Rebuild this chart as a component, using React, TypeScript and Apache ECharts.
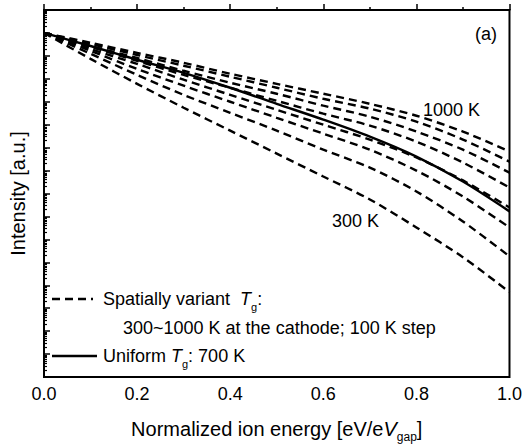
import { useEffect, useRef } from 'react';
import * as echarts from 'echarts';

// Normalized ion energy (eV / eV_gap)
const energy = [0, 0.1, 0.2, 0.3, 0.4, 0.5, 0.6, 0.7, 0.8, 0.9, 1.0];

// log10 of intensity (a.u.) for the spatially variant Tg cases (cathode temperature)
const tempLabels = ['300 K', '400 K', '500 K', '600 K', '700 K', '800 K', '900 K', '1000 K'];
const log10I_300K = [-1.0, -2.13, -3.22, -4.26, -5.26, -6.26, -7.26, -8.26, -9.48, -10.78, -12.3];
const log10I_400K = [-1.0, -1.91, -2.83, -3.7, -4.48, -5.26, -6.09, -6.87, -7.91, -9.22, -10.74];
const log10I_500K = [-1.0, -1.78, -2.57, -3.3, -4.0, -4.7, -5.39, -6.09, -7.0, -8.13, -9.48];
const log10I_600K = [-1.0, -1.7, -2.35, -3.04, -3.7, -4.35, -5.0, -5.65, -6.43, -7.43, -8.61];
const log10I_700K = [-1.0, -1.61, -2.22, -2.83, -3.39, -3.96, -4.52, -5.04, -5.74, -6.65, -7.74];
const log10I_800K = [-1.0, -1.57, -2.09, -2.65, -3.17, -3.65, -4.17, -4.65, -5.3, -6.09, -7.09];
const log10I_900K = [-1.0, -1.48, -1.96, -2.43, -2.91, -3.39, -3.87, -4.3, -4.87, -5.65, -6.61];
const log10I_1000K = [-1.0, -1.43, -1.87, -2.3, -2.78, -3.22, -3.65, -4.09, -4.61, -5.3, -6.17];
// uniform Tg = 700 K
const log10I_uniform700K = [-1.0, -1.57, -2.17, -2.74, -3.39, -4.09, -4.78, -5.52, -6.39, -7.48, -8.78];

const variantSeries = [
  log10I_300K, log10I_400K, log10I_500K, log10I_600K,
  log10I_700K, log10I_800K, log10I_900K, log10I_1000K,
];

// axis ranges (log10 decades) and x ticks
const yMinDecade = -16;
const yMaxDecade = 0;
const xMin = 0;
const xMax = 1;
const xInterval = 0.2;

const FONT = '"Liberation Sans", Arial, Helvetica, sans-serif';

export default function App() {
  const ref = useRef<HTMLDivElement>(null);

  useEffect(() => {
    if (!ref.current) return;
    const chart = echarts.init(ref.current, undefined, { renderer: 'svg' });

    const minorTickValues: number[] = [];
    for (let n = yMinDecade; n < yMaxDecade; n++) {
      for (let k = 2; k <= 9; k++) minorTickValues.push(n + Math.log10(k));
    }
    const majorTickValues: number[] = [];
    for (let n = yMinDecade; n <= yMaxDecade; n++) majorTickValues.push(n);

    const dashed = [8, 5];
    const series: any[] = variantSeries.map((arr, idx) => ({
      name: tempLabels[idx],
      type: 'line',
      xAxisIndex: 0,
      yAxisIndex: 0,
      showSymbol: false,
      symbol: 'none',
      smooth: 0.3,
      lineStyle: { color: '#000', width: 2.4, type: dashed },
      data: energy.map((x, i) => [x, arr[i]]),
      z: 3,
    }));
    series.push({
      name: 'Uniform Tg: 700 K',
      type: 'line',
      xAxisIndex: 0,
      yAxisIndex: 0,
      showSymbol: false,
      symbol: 'none',
      smooth: 0.3,
      lineStyle: { color: '#000', width: 2.4, type: 'solid' },
      data: energy.map((x, i) => [x, log10I_uniform700K[i]]),
      z: 4,
    });

    const txt = (text: string, x: number, y: number, rich?: any) => ({
      type: 'text',
      x,
      y,
      z: 10,
      style: {
        text,
        fill: '#000',
        fontFamily: FONT,
        fontSize: 18,
        align: 'left',
        verticalAlign: 'middle',
        textAlign: 'left',
        textVerticalAlign: 'middle',
        rich,
      },
    });

    const richT = {
      n: { fontFamily: FONT, fontSize: 18, lineHeight: 26, fill: '#000', color: '#000' },
      i: { fontFamily: FONT, fontSize: 18, fontStyle: 'italic', lineHeight: 26, fill: '#000', color: '#000' },
      s: { fontFamily: FONT, fontSize: 11, lineHeight: 12, verticalAlign: 'bottom', fill: '#000', color: '#000' },
    };

    chart.setOption({
      animation: false,
      backgroundColor: '#fff',
      grid: {
        left: 43, right: 14, top: 10, bottom: 70,
        show: true, borderColor: '#000', borderWidth: 2, backgroundColor: 'transparent',
      },
      xAxis: {
        type: 'value',
        min: xMin,
        max: xMax,
        interval: xInterval,
        axisLine: { show: true, lineStyle: { color: '#000', width: 2 } },
        axisTick: { show: true, inside: true, length: 6, lineStyle: { color: '#000', width: 1.5 } },
        minorTick: { show: true, splitNumber: 2, length: 3, lineStyle: { color: '#000', width: 1.5 } },
        splitLine: { show: false },
        minorSplitLine: { show: false },
        axisLabel: {
          color: '#000', fontFamily: FONT, fontSize: 18, margin: 8,
          formatter: (v: number) => v.toFixed(1),
        },
        name: '{n|Normalized ion energy [eV/e}{i|V}{s|gap}{n|]}',
        nameLocation: 'middle',
        nameGap: 38,
        nameTextStyle: {
          color: '#000', fontFamily: FONT, fontSize: 20,
          rich: {
            n: { fontFamily: FONT, fontSize: 20, lineHeight: 28, color: '#000' },
            i: { fontFamily: FONT, fontSize: 20, fontStyle: 'italic', lineHeight: 28, color: '#000' },
            s: { fontFamily: FONT, fontSize: 12, lineHeight: 13, verticalAlign: 'bottom', color: '#000' },
          },
        },
      },
      yAxis: [
        {
          type: 'value',
          min: yMinDecade,
          max: yMaxDecade,
          interval: 1,
          axisLine: { show: true, lineStyle: { color: '#000', width: 2 } },
          axisTick: { show: true, inside: true, length: 6, customValues: majorTickValues, lineStyle: { color: '#000', width: 1.5 } },
          axisLabel: { show: false },
          splitLine: { show: false },
          name: 'Intensity [a.u.]',
          nameLocation: 'middle',
          nameGap: 16,
          nameTextStyle: { color: '#000', fontFamily: FONT, fontSize: 20 },
        },
        {
          type: 'value',
          position: 'left',
          min: yMinDecade,
          max: yMaxDecade,
          interval: 1,
          axisLine: { show: false },
          axisTick: { show: true, inside: true, length: 3, customValues: minorTickValues, lineStyle: { color: '#000', width: 1.2 } },
          axisLabel: { show: false },
          splitLine: { show: false },
        },
      ],
      series,
      graphic: [
        txt('(a)', 475, 34),
        txt('1000 K', 423, 110),
        txt('300 K', 332, 221),
        {
          type: 'line', z: 10,
          shape: { x1: 52, y1: 299, x2: 93, y2: 299 },
          style: { stroke: '#000', lineWidth: 2.4, lineDash: dashed },
        },
        txt('{n|Spatially variant  }{i|T}{s|g}{n|:}', 103, 299, richT),
        txt('300~1000 K at the cathode; 100 K step', 123, 328),
        {
          type: 'line', z: 10,
          shape: { x1: 52, y1: 356, x2: 97, y2: 356 },
          style: { stroke: '#000', lineWidth: 2.4 },
        },
        txt('{n|Uniform }{i|T}{s|g}{n|: 700 K}', 103, 356, richT),
      ],
    });

    return () => chart.dispose();
  }, []);

  return (
    <div
      ref={ref}
      style={{ position: 'fixed', left: 0, top: 0, width: 525, height: 448, background: '#fff' }}
    />
  );
}
